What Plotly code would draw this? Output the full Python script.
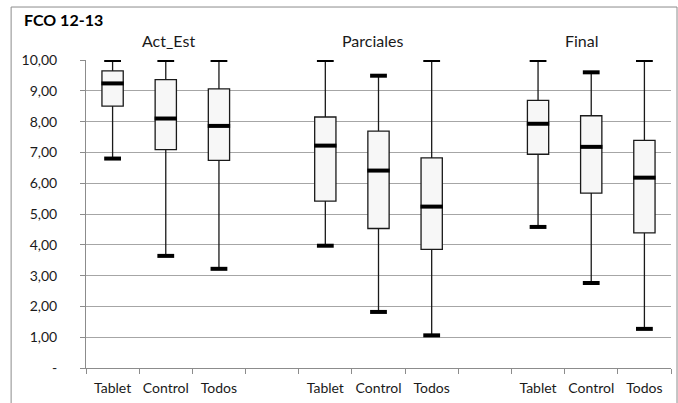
import plotly.graph_objects as go

groups = ["Act_Est", "Parciales", "Final"]
subgroups = ["Tablet", "Control", "Todos"]

# per box, in order: Act_Est (Tablet, Control, Todos), Parciales (...), Final (...)
mins    = [6.80, 3.64, 3.22, 3.97, 1.82, 1.06, 4.58, 2.76, 1.27]
q1s     = [8.50, 7.09, 6.74, 5.42, 4.53, 3.85, 6.94, 5.68, 4.39]
medians = [9.24, 8.10, 7.86, 7.22, 6.41, 5.24, 7.93, 7.18, 6.18]
q3s     = [9.65, 9.36, 9.06, 8.15, 7.69, 6.82, 8.69, 8.19, 7.39]
maxs    = [10.0, 10.0, 10.0, 10.0, 9.49, 10.0, 10.0, 9.60, 10.0]

ytick_vals = [0, 1, 2, 3, 4, 5, 6, 7, 8, 9, 10]
ytick_text = ["-", "1,00", "2,00", "3,00", "4,00", "5,00", "6,00", "7,00", "8,00", "9,00", "10,00"]

# slot positions: 3 boxes per group, blank slot between groups
positions = []
labels = []
for g in range(len(groups)):
    for s in range(len(subgroups)):
        positions.append(g * 4 + s)
        labels.append(subgroups[s])

FONT = "Lato"
fig = go.Figure()

for i, x in enumerate(positions):
    fig.add_trace(go.Box(
        x=[x], q1=[q1s[i]], median=[medians[i]], q3=[q3s[i]],
        lowerfence=[mins[i]], upperfence=[maxs[i]],
        width=0.4, whiskerwidth=0,
        fillcolor="#f7f7f7", line=dict(color="#1a1a1a", width=1.3),
        boxpoints=False, hoverinfo="skip", showlegend=False,
    ))

# thick caps
fig.add_trace(go.Scatter(
    x=positions + positions, y=mins + maxs, mode="markers",
    marker=dict(symbol="line-ew", size=12, line=dict(color="black", width=4)),
    hoverinfo="skip", showlegend=False,
))
# thick medians
fig.add_trace(go.Scatter(
    x=positions, y=medians, mode="markers",
    marker=dict(symbol="line-ew", size=16, line=dict(color="black", width=4)),
    hoverinfo="skip", showlegend=False,
))

boundaries = [b - 0.5 for b in range(12)]
label_shift = [3, -6, -9]

fig.update_layout(
    width=678, height=403,
    margin=dict(l=86, r=7, t=60, b=35),
    paper_bgcolor="white", plot_bgcolor="white",
    font=dict(family=FONT, size=14, color="#1a1a1a"),
    xaxis=dict(
        range=[-0.5, 10.5], tickmode="array", tickvals=positions, ticktext=labels,
        ticks="", showgrid=False, zeroline=False,
        showline=True, linecolor="#8c8c8c", linewidth=1,
        minor=dict(tickmode="array", tickvals=boundaries, ticks="outside", ticklen=5,
                   tickcolor="#8c8c8c", showgrid=False),
        ticklabelstandoff=7,
        tickfont=dict(family=FONT, size=14),
    ),
    yaxis=dict(
        range=[0, 10], tickmode="array", tickvals=ytick_vals, ticktext=ytick_text,
        ticks="outside", ticklen=5, tickcolor="#8c8c8c",
        showgrid=True, gridcolor="#a6a6a6", gridwidth=1, zeroline=False,
        showline=True, linecolor="#8c8c8c", linewidth=1,
        ticklabelstandoff=20,
        tickfont=dict(family=FONT, size=14),
    ),
    shapes=[dict(type="rect", xref="paper", yref="paper",
                 x0=-0.128, x1=1.0103, y0=-0.3, y1=1.172,
                 line=dict(color="#8c8c8c", width=1), layer="below")],
    annotations=[
        dict(text="<b>FCO 12-13</b>", xref="paper", yref="paper",
             x=(22 - 86) / 585, y=(368 - 20) / 308, xanchor="left", yanchor="middle",
             showarrow=False, font=dict(family=FONT, size=16, color="black")),
    ] + [
        dict(text=groups[g], xref="x", yref="paper", x=g * 4 + 1, y=(368 - 40) / 308,
             xshift=label_shift[g],
             xanchor="center", yanchor="middle", showarrow=False,
             font=dict(family=FONT, size=16, color="#1a1a1a"))
        for g in range(len(groups))
    ],
)

fig.write_html("out.html",
               config={"displayModeBar": False},
               post_script="document.body.style.margin='0';document.body.style.padding='0';")
